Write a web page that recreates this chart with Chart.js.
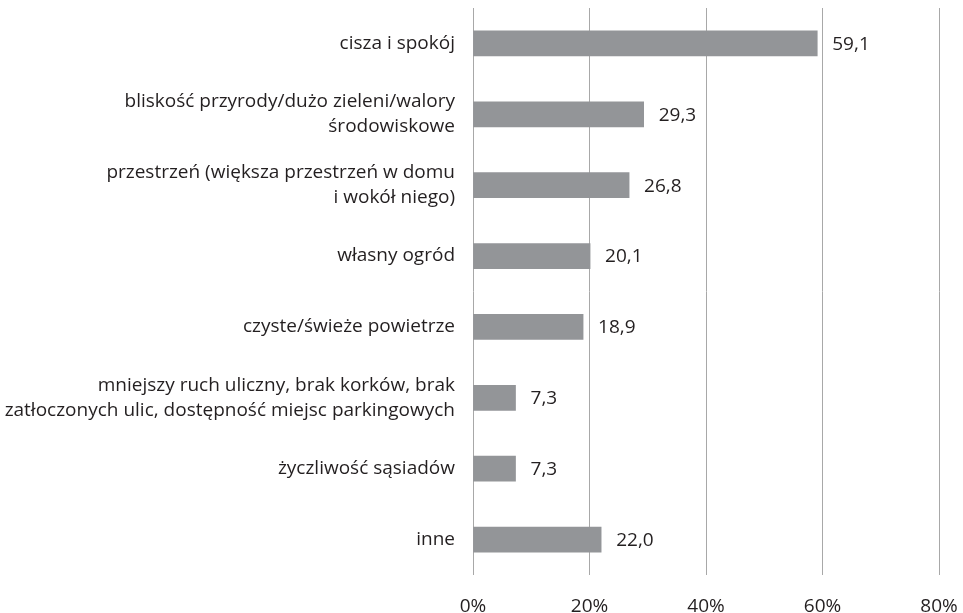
<!DOCTYPE html>
<html><head><meta charset="utf-8">
<script src="https://cdn.jsdelivr.net/npm/chart.js@4/dist/chart.umd.min.js"></script>
<style>html,body{margin:0;padding:0;background:#fff}#wrap{width:963px;height:613px}</style>
</head><body><div id="wrap"><canvas id="c" width="963" height="613"></canvas></div>
<script>
const categories = [
  "cisza i spokój",
  ["bliskość przyrody/dużo zieleni/walory", "środowiskowe"],
  ["przestrzeń (większa przestrzeń w domu", "i wokół niego)"],
  "własny ogród",
  "czyste/świeże powietrze",
  ["mniejszy ruch uliczny, brak korków, brak", "zatłoczonych ulic, dostępność miejsc parkingowych"],
  "życzliwość sąsiadów",
  "inne"
];
const values = [59.1, 29.3, 26.8, 20.1, 18.9, 7.3, 7.3, 22.0];
const xTicks = [0, 20, 40, 60, 80];

const FONT = "'Open Sans', sans-serif";
const TXT = '#231f20';

const valueLabels = {
  id: 'valueLabels',
  afterDatasetsDraw(chart) {
    const ctx = chart.ctx;
    const meta = chart.getDatasetMeta(0);
    ctx.save();
    ctx.font = '19px ' + FONT;
    ctx.fillStyle = TXT;
    ctx.textBaseline = 'middle';
    ctx.textAlign = 'left';
    meta.data.forEach((bar, i) => {
      ctx.fillText(values[i].toFixed(1).replace('.', ','), bar.x + 15, bar.y + 1);
    });
    ctx.restore();
  }
};

new Chart(document.getElementById('c'), {
  type: 'bar',
  data: {
    labels: categories,
    datasets: [{
      data: values,
      backgroundColor: '#939598',
      borderWidth: 0,
      barThickness: 25
    }]
  },
  options: {
    indexAxis: 'y',
    responsive: false,
    animation: false,
    layout: { padding: { top: 8, right: 24, left: 0, bottom: 0 } },
    plugins: { legend: { display: false }, tooltip: { enabled: false } },
    scales: {
      x: {
        min: 0, max: 80,
        afterBuildTicks: s => { s.ticks = xTicks.map(v => ({ value: v })); },
        afterFit: s => { s.height = 38; s.paddingLeft = 0; s.paddingRight = 0; },
        ticks: {
          callback: v => v + '%',
          font: { family: FONT, size: 19 },
          color: TXT,
          padding: 20,
          maxRotation: 0
        },
        grid: { color: '#a8a8a8', lineWidth: 1, drawTicks: false },
        border: { display: false }
      },
      y: {
        afterFit: s => { s.width = 473; s.paddingTop = 0; s.paddingBottom = 0; },
        ticks: {
          font: { family: FONT, size: 19, lineHeight: 1.32 },
          color: TXT,
          padding: 18,
          crossAlign: 'near'
        },
        grid: { display: false, drawTicks: false },
        border: { display: false }
      }
    }
  },
  plugins: [valueLabels]
});
</script></body></html>
